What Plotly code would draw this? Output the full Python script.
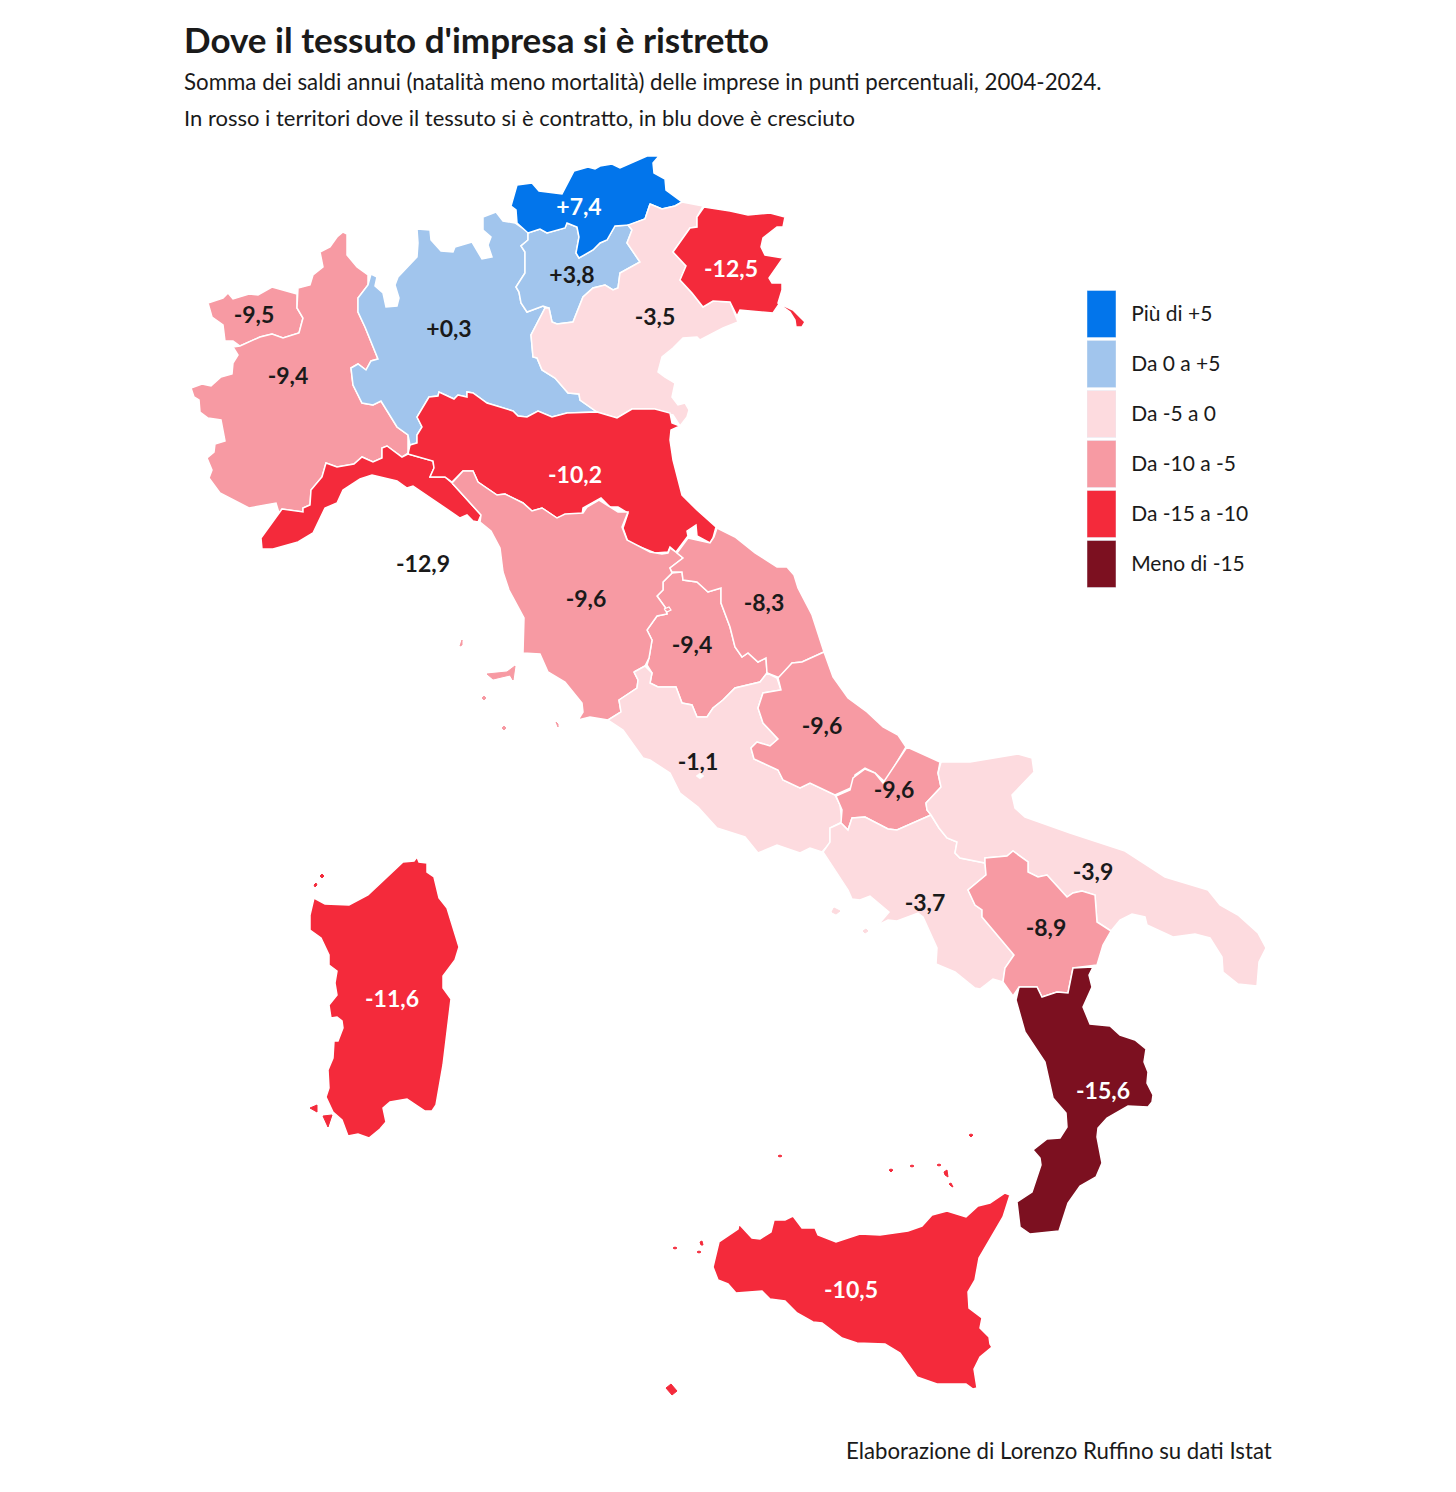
import plotly.graph_objects as go

TITLE = "Dove il tessuto d'impresa si è ristretto"
SUBTITLE_1 = "Somma dei saldi annui (natalità meno mortalità) delle imprese in punti percentuali, 2004-2024."
SUBTITLE_2 = "In rosso i territori dove il tessuto si è contratto, in blu dove è cresciuto"
CAPTION = "Elaborazione di Lorenzo Ruffino su dati Istat"

FONT = "Lato"
INK = "#1a1a1a"

REGIONS = ["Valle d'Aosta", "Piemonte", "Lombardia", "Trentino", "Alto Adige", "Veneto", "Friuli-Venezia Giulia",
           "Liguria", "Emilia-Romagna", "Umbria", "Toscana", "Marche", "Lazio", "Abruzzo", "Molise", "Campania",
           "Puglia", "Basilicata", "Calabria", "Sicilia", "Sardegna"]
VALUES = [-9.5, -9.4, 0.3, 3.8, 7.4, -3.5, -12.5, -12.9, -10.2, -9.4, -9.6, -8.3, -1.1, -9.6, -9.6, -3.7, -3.9,
          -8.9, -15.6, -10.5, -11.6]

# where each value label sits on the map
LABEL_X = [254, 288, 449, 572, 579, 655, 731, 423, 575, 692, 586, 764, 698, 822, 894, 925, 1093, 1046, 1103, 851, 392]
LABEL_Y = [317, 378, 331, 277, 209, 319, 271, 566, 477, 647, 601, 605, 764, 728, 792, 905, 874, 930, 1093, 1292, 1001]

LEGEND_LABELS = ["Più di +5", "Da 0 a +5", "Da -5 a 0", "Da -10 a -5", "Da -15 a -10", "Meno di -15"]
LEGEND_COLORS = ["#0275eb", "#a1c5ed", "#fddbdf", "#f79aa3", "#f42a3b", "#7c1020"]
LEGEND_BREAKS = [5, 0, -5, -10, -15]

# outlines, in page pixels; first ring is the mainland, the rest are islands
VALLE_DAOSTA = [[(208, 303), (223, 298), (228, 293), (233, 299), (249, 294), (258, 295), (272, 287), (297, 294),
                 (297, 308), (303, 318), (299, 333), (283, 338), (272, 334), (260, 337), (240, 346), (233, 341),
                 (225, 341), (223, 325), (212, 317)]]
PIEMONTE = [[(337, 237), (343, 232), (347, 234), (347, 255), (357, 267), (368, 275), (368, 285), (358, 298),
             (358, 312), (365, 327), (378, 359), (371, 361), (366, 370), (358, 364), (351, 368), (353, 385),
             (362, 403), (373, 405), (381, 401), (397, 427), (408, 435), (408, 453), (402, 457), (387, 446),
             (382, 448), (382, 458), (373, 462), (362, 457), (354, 464), (337, 467), (326, 463), (322, 477),
             (311, 490), (310, 505), (303, 508), (303, 512), (282, 509), (279, 513), (276, 503), (249, 508),
             (220, 493), (209, 478), (212, 470), (207, 458), (214, 452), (215, 444), (225, 441), (221, 420),
             (208, 418), (200, 412), (199, 400), (194, 397), (191, 388), (202, 384), (211, 386), (221, 377),
             (232, 374), (233, 363), (238, 355), (233, 347), (240, 346), (260, 337), (272, 334), (283, 338),
             (299, 333), (303, 318), (297, 308), (298, 288), (310, 285), (313, 275), (323, 267), (320, 252),
             (330, 247)]]
LOMBARDIA = [[(371, 274), (377, 277), (375, 286), (383, 293), (386, 307), (397, 306), (399, 298), (395, 285),
              (398, 277), (417, 257), (418, 243), (417, 229), (430, 230), (431, 240), (441, 251), (453, 252),
              (455, 247), (472, 242), (482, 259), (492, 257), (488, 245), (491, 237), (483, 230), (483, 217),
              (496, 212), (503, 221), (515, 223), (528, 232), (528, 240), (521, 246), (525, 252), (525, 273),
              (516, 287), (519, 292), (521, 303), (527, 312), (543, 306), (545, 308), (531, 335), (533, 357),
              (537, 358), (542, 370), (555, 378), (568, 393), (579, 394), (580, 400), (597, 412), (567, 413),
              (552, 417), (538, 411), (527, 417), (518, 416), (513, 411), (487, 403), (473, 393), (467, 392),
              (467, 397), (458, 395), (454, 399), (439, 392), (438, 396), (429, 397), (417, 417), (422, 427),
              (417, 435), (417, 443), (410, 445), (408, 435), (397, 427), (381, 401), (373, 405), (362, 403),
              (353, 385), (351, 368), (358, 364), (366, 370), (371, 361), (378, 359), (365, 327), (358, 312),
              (358, 298), (368, 285)]]
TRENTINO = [[(528, 233), (540, 229), (547, 233), (565, 228), (567, 223), (577, 227), (579, 237), (576, 253),
             (579, 258), (593, 250), (600, 243), (607, 240), (615, 226), (628, 225), (632, 230), (627, 243),
             (640, 262), (620, 273), (618, 288), (613, 290), (605, 285), (593, 288), (583, 297), (573, 322),
             (557, 324), (552, 322), (549, 308), (543, 306), (527, 312), (521, 303), (519, 292), (516, 287),
             (525, 273), (525, 258), (525, 252), (521, 246), (528, 240)]]
ALTO_ADIGE = [[(517, 185), (532, 183), (539, 191), (562, 194), (574, 171), (588, 167), (595, 169), (600, 166),
               (612, 164), (620, 168), (647, 156), (659, 156), (653, 163), (654, 173), (665, 179), (666, 190),
               (682, 202), (675, 206), (662, 209), (650, 204), (645, 219), (630, 225), (615, 226), (607, 240),
               (600, 243), (593, 250), (579, 258), (576, 253), (579, 237), (577, 227), (567, 223), (565, 228),
               (547, 233), (540, 229), (528, 233), (517, 223), (516, 210), (511, 206)]]
VENETO = [[(650, 204), (662, 209), (675, 206), (682, 202), (703, 206), (697, 217), (697, 227), (690, 228),
           (673, 252), (686, 266), (680, 280), (692, 293), (703, 307), (713, 301), (730, 302), (738, 322),
           (723, 328), (700, 340), (697, 337), (683, 338), (673, 348), (662, 357), (658, 372), (665, 377),
           (675, 383), (672, 397), (678, 405), (685, 403), (689, 410), (687, 417), (680, 426), (673, 415),
           (663, 413), (654, 409), (632, 409), (617, 418), (597, 412), (580, 400), (579, 394), (568, 393),
           (555, 378), (542, 370), (537, 358), (533, 357), (531, 335), (545, 308), (549, 308), (552, 322),
           (557, 324), (573, 322), (583, 297), (593, 288), (605, 285), (613, 290), (618, 288), (620, 273),
           (640, 262), (627, 243), (632, 230), (628, 225), (645, 219)]]
FRIULI = [[(704, 207), (730, 211), (748, 215), (770, 213), (785, 217), (783, 227), (777, 227), (763, 238),
           (761, 247), (765, 255), (783, 258), (769, 278), (772, 283), (782, 283), (782, 290), (778, 303),
           (793, 310), (805, 322), (802, 327), (796, 327), (795, 320), (790, 312), (779, 304), (773, 313),
           (740, 310), (737, 316), (730, 302), (713, 301), (703, 307), (692, 293), (680, 280), (686, 266),
           (673, 252), (690, 228), (697, 227), (697, 217)]]
LIGURIA = [[(408, 454), (433, 461), (434, 468), (430, 477), (445, 477), (452, 483), (481, 515), (478, 522),
            (473, 521), (467, 515), (460, 518), (413, 486), (407, 488), (397, 481), (372, 475), (360, 479),
            (343, 490), (337, 503), (325, 508), (313, 533), (298, 542), (273, 549), (262, 549), (261, 538),
            (282, 509), (303, 512), (303, 508), (310, 505), (311, 490), (322, 477), (326, 463), (337, 467),
            (354, 464), (362, 457), (373, 462), (382, 458), (382, 448), (387, 446), (402, 457)]]
EMILIA = [[(410, 445), (417, 443), (417, 435), (422, 427), (417, 417), (429, 397), (438, 396), (439, 392),
           (454, 399), (458, 395), (467, 397), (467, 392), (473, 393), (487, 403), (513, 411), (518, 416),
           (527, 417), (538, 411), (552, 417), (567, 413), (597, 412), (617, 418), (632, 409), (655, 409),
           (670, 413), (672, 423), (680, 426), (671, 430), (670, 440), (673, 460), (682, 495), (697, 510),
           (716, 527), (713, 538), (710, 543), (697, 536), (696, 525), (687, 531), (688, 536), (676, 552),
           (670, 547), (668, 552), (655, 553), (628, 542), (623, 528), (628, 513), (618, 507), (610, 507),
           (601, 498), (583, 508), (582, 515), (567, 515), (557, 518), (542, 508), (532, 511), (523, 503),
           (505, 494), (497, 495), (478, 482), (473, 471), (463, 471), (452, 482), (445, 477), (430, 477),
           (434, 468), (433, 461), (408, 454)]]
TOSCANA = [[(452, 483), (463, 471), (473, 471), (478, 482), (497, 495), (505, 494), (523, 503), (532, 511),
            (542, 508), (557, 518), (565, 514), (583, 513), (587, 507), (599, 500), (618, 512), (628, 512),
            (622, 527), (627, 540), (650, 552), (662, 554), (668, 553), (670, 548), (677, 553), (683, 558),
            (670, 568), (672, 573), (663, 582), (663, 590), (657, 596), (665, 607), (667, 614), (657, 616),
            (647, 630), (652, 640), (649, 658), (645, 666), (634, 672), (638, 680), (637, 688), (619, 700),
            (621, 712), (608, 720), (590, 717), (578, 720), (583, 712), (582, 703), (565, 682), (548, 672),
            (540, 654), (523, 653), (524, 618), (509, 590), (503, 572), (500, 548), (491, 531), (480, 522),
            (481, 515)],
           [(487, 674), (493, 679), (510, 675), (513, 680), (515, 666), (507, 672)],
           [(460, 646), (462, 640), (462, 645)],
           [(482, 698), (484, 696), (486, 698), (484, 700)],
           [(502, 728), (504, 726), (506, 728), (504, 730)],
           [(556, 722), (558, 724), (558, 727)]]
MARCHE = [[(717, 528), (735, 537), (755, 553), (777, 567), (787, 567), (794, 575), (798, 588), (812, 615),
           (824, 652), (802, 662), (792, 663), (780, 678), (767, 673), (766, 658), (758, 662), (748, 653),
           (742, 657), (735, 647), (730, 627), (721, 603), (721, 588), (708, 592), (697, 582), (683, 580),
           (682, 572), (672, 572), (670, 568), (683, 558), (677, 553), (688, 538), (710, 543), (714, 537)]]
UMBRIA = [[(672, 573), (682, 572), (683, 580), (697, 582), (708, 592), (721, 588), (721, 603), (730, 627),
           (735, 647), (742, 657), (748, 653), (758, 662), (766, 658), (767, 673), (760, 682), (735, 688),
           (723, 700), (713, 708), (707, 717), (697, 717), (692, 705), (682, 703), (676, 687), (658, 687),
           (650, 683), (652, 673), (647, 665), (649, 658), (652, 640), (647, 630), (657, 616), (667, 614),
           (665, 607), (657, 596), (663, 590), (663, 582)]]
LAZIO = [[(634, 672), (645, 666), (652, 673), (650, 683), (658, 687), (676, 687), (682, 703), (692, 705),
          (697, 717), (707, 717), (713, 708), (723, 700), (735, 688), (760, 682), (767, 673), (777, 678),
          (781, 690), (763, 693), (758, 708), (763, 723), (778, 739), (770, 746), (757, 742), (751, 748),
          (754, 759), (778, 770), (783, 780), (800, 788), (810, 783), (835, 795), (840, 805), (842, 822),
          (830, 828), (830, 843), (822, 852), (810, 848), (800, 853), (777, 845), (758, 853), (745, 837),
          (717, 828), (698, 807), (680, 793), (670, 773), (650, 760), (643, 758), (623, 730), (608, 720),
          (621, 712), (619, 700), (637, 688), (638, 680)]]
ABRUZZO = [[(824, 652), (833, 677), (848, 698), (867, 712), (883, 727), (898, 735), (906, 747), (885, 782),
            (875, 773), (865, 768), (855, 775), (853, 787), (835, 795), (810, 783), (800, 788), (783, 780),
            (778, 770), (754, 759), (751, 748), (757, 742), (770, 746), (778, 739), (763, 723), (758, 708),
            (763, 693), (781, 690), (778, 678), (792, 663), (802, 662)]]
MOLISE = [[(907, 747), (940, 762), (938, 773), (941, 787), (926, 803), (927, 810), (931, 815), (897, 830),
           (888, 829), (865, 817), (852, 818), (848, 830), (841, 823), (842, 810), (836, 796), (850, 790),
           (853, 778), (865, 769), (875, 773), (883, 783)]]
CAMPANIA = [[(841, 823), (848, 830), (852, 818), (865, 817), (888, 829), (897, 830), (931, 815), (939, 828),
             (947, 838), (957, 842), (955, 853), (960, 858), (985, 863), (986, 875), (968, 890), (975, 905),
             (982, 910), (982, 917), (1014, 955), (1005, 968), (1003, 982), (993, 979), (980, 989), (975, 988),
             (955, 972), (936, 964), (937, 948), (923, 917), (918, 913), (897, 921), (888, 920), (878, 925),
             (889, 912), (870, 896), (860, 900), (852, 899), (848, 890), (823, 852), (830, 842), (830, 828)],
            [(832, 912), (834, 908), (840, 911), (836, 914)],
            [(863, 931), (866, 929), (868, 931), (865, 933)]]
PUGLIA = [[(941, 762), (970, 762), (1018, 754), (1032, 758), (1034, 772), (1012, 795), (1015, 808), (1025, 817),
           (1070, 833), (1125, 851), (1165, 877), (1208, 890), (1220, 905), (1238, 915), (1258, 933), (1266, 948),
           (1259, 962), (1257, 986), (1238, 984), (1223, 972), (1222, 957), (1210, 938), (1195, 934), (1173, 937),
           (1147, 925), (1145, 917), (1132, 914), (1120, 920), (1111, 931), (1097, 922), (1095, 895), (1082, 891),
           (1073, 893), (1067, 897), (1047, 875), (1038, 877), (1028, 872), (1028, 862), (1013, 851), (1007, 856),
           (985, 858), (985, 863), (960, 858), (955, 853), (957, 842), (947, 838), (939, 828), (931, 815),
           (927, 810), (926, 803), (941, 787), (938, 773)]]
BASILICATA = [[(985, 863), (985, 858), (1007, 856), (1013, 851), (1028, 862), (1028, 872), (1038, 877), (1047, 875),
               (1067, 897), (1073, 893), (1082, 891), (1095, 895), (1097, 922), (1111, 931), (1103, 945), (1097, 965),
               (1073, 968), (1068, 993), (1057, 992), (1042, 997), (1037, 987), (1019, 987), (1013, 996), (1003, 982),
               (1005, 968), (1014, 955), (982, 917), (982, 910), (975, 905), (968, 890), (986, 875)]]
CALABRIA = [[(1019, 987), (1037, 987), (1042, 997), (1057, 992), (1068, 993), (1073, 968), (1093, 967), (1089, 975),
             (1092, 987), (1083, 1007), (1090, 1024), (1110, 1026), (1120, 1035), (1135, 1040), (1146, 1049),
             (1144, 1062), (1148, 1072), (1147, 1083), (1153, 1095), (1152, 1102), (1148, 1107), (1128, 1106),
             (1107, 1118), (1098, 1128), (1097, 1137), (1102, 1163), (1096, 1177), (1080, 1186), (1068, 1203),
             (1059, 1231), (1030, 1234), (1020, 1227), (1017, 1202), (1032, 1192), (1041, 1165), (1040, 1158),
             (1033, 1150), (1047, 1139), (1060, 1138), (1067, 1127), (1066, 1113), (1053, 1098), (1045, 1062),
             (1025, 1032), (1016, 1000)]]
SICILIA = [[(739, 1224), (752, 1238), (760, 1239), (771, 1232), (774, 1220), (785, 1220), (793, 1216), (802, 1228),
            (815, 1228), (818, 1235), (836, 1242), (860, 1234), (880, 1235), (908, 1231), (922, 1226), (932, 1215),
            (947, 1211), (966, 1217), (978, 1206), (990, 1203), (1005, 1193), (1010, 1195), (1003, 1217), (979, 1258),
            (975, 1280), (968, 1292), (969, 1308), (982, 1318), (980, 1328), (989, 1337), (990, 1344), (992, 1347),
            (980, 1357), (974, 1369), (977, 1388), (973, 1389), (966, 1384), (937, 1384), (917, 1377), (900, 1353),
            (885, 1344), (857, 1343), (842, 1338), (822, 1323), (813, 1322), (797, 1313), (785, 1301), (770, 1299),
            (762, 1291), (736, 1293), (728, 1284), (718, 1280), (713, 1267), (719, 1242), (738, 1229)],
           [(666, 1388), (671, 1384), (677, 1391), (672, 1395)],
           [(673, 1248), (675, 1247), (677, 1248), (675, 1249)],
           [(700, 1242), (702, 1241), (703, 1245), (701, 1245)],
           [(697, 1252), (699, 1251), (701, 1252), (699, 1253)],
           [(969, 1135), (971, 1134), (973, 1135), (971, 1137)],
           [(778, 1156), (780, 1155), (782, 1156), (780, 1157)],
           [(889, 1170), (891, 1169), (893, 1170), (891, 1172)],
           [(910, 1166), (912, 1165), (914, 1166), (912, 1167)],
           [(937, 1165), (939, 1164), (941, 1165), (939, 1166)],
           [(944, 1172), (947, 1170), (948, 1177), (945, 1175)],
           [(949, 1184), (951, 1183), (953, 1187), (951, 1186)]]
SARDEGNA = [[(314, 898), (325, 904), (349, 905), (368, 895), (403, 862), (414, 861), (417, 857), (419, 862),
             (427, 863), (427, 872), (434, 877), (439, 898), (447, 908), (459, 947), (455, 960), (443, 976),
             (443, 988), (451, 999), (443, 1065), (436, 1105), (432, 1111), (425, 1111), (407, 1099), (390, 1102),
             (383, 1108), (386, 1122), (380, 1129), (369, 1138), (358, 1134), (348, 1136), (342, 1120), (333, 1112),
             (326, 1097), (329, 1088), (328, 1070), (333, 1058), (334, 1041), (338, 1041), (343, 1028), (342, 1021),
             (337, 1017), (331, 1018), (329, 1005), (337, 995), (335, 983), (337, 971), (329, 965), (329, 955),
             (321, 938), (310, 930), (310, 915)],
            [(310, 1108), (317, 1105), (317, 1112)],
            [(323, 1116), (332, 1115), (328, 1127)],
            [(320, 876), (322, 874), (324, 876), (322, 878)],
            [(314, 885), (316, 883), (317, 885), (315, 887)]]

OUTLINES = [VALLE_DAOSTA, PIEMONTE, LOMBARDIA, TRENTINO, ALTO_ADIGE, VENETO, FRIULI, LIGURIA, EMILIA, UMBRIA, TOSCANA,
            MARCHE, LAZIO, ABRUZZO, MOLISE, CAMPANIA, PUGLIA, BASILICATA, CALABRIA, SICILIA, SARDEGNA]
# the Vatican gap inside Lazio
VATICANO = [(696, 776), (700, 773), (704, 776), (700, 779)]
# the Tuscan enclave inside Umbria
ENCLAVE = [(664, 609), (669, 607), (671, 610), (667, 612)]

# the browser pads the page by 8px, so the plot is 16px smaller and the axes start at 8
PAD = 8
PLOT_W = 1440
PLOT_H = 1476


def band_color(value):
    # picks the legend band a value falls in
    for brk, color in zip(LEGEND_BREAKS, LEGEND_COLORS):
        if value >= brk:
            return color
    return LEGEND_COLORS[-1]


def rings_to_xy(rings):
    xs, ys = [], []
    for ring in rings:
        xs += [p[0] for p in ring] + [ring[0][0], None]
        ys += [p[1] for p in ring] + [ring[0][1], None]
    return xs, ys


def label_text(value):
    return f"{value:+.1f}".replace(".", ",")


def label_color(name, value):
    # Liguria's label sits out at sea, on white
    if name != "Liguria" and band_color(value) in ("#0275eb", "#f42a3b", "#7c1020"):
        return "white"
    return INK


fig = go.Figure()

for name, value, rings in zip(REGIONS, VALUES, OUTLINES):
    color = band_color(value)
    xs, ys = rings_to_xy(rings[:1])
    fig.add_trace(go.Scatter(x=xs, y=ys, mode="lines", fill="toself", fillcolor=color,
                             line=dict(color="white", width=1.5), name=name, hoverinfo="name"))
    if len(rings) > 1:
        # islands get no white edge or the tiny ones vanish
        xs, ys = rings_to_xy(rings[1:])
        fig.add_trace(go.Scatter(x=xs, y=ys, mode="lines", fill="toself", fillcolor=color,
                                 line=dict(color=color, width=1), name=name, hoverinfo="name"))

xs, ys = rings_to_xy([VATICANO])
fig.add_trace(go.Scatter(x=xs, y=ys, mode="lines", fill="toself", fillcolor="white",
                         line=dict(color="white", width=0.5), hoverinfo="skip"))
xs, ys = rings_to_xy([ENCLAVE])
fig.add_trace(go.Scatter(x=xs, y=ys, mode="lines", fill="toself", fillcolor=band_color(-9.6),
                         line=dict(color="white", width=1.2), hoverinfo="skip"))

fig.add_trace(go.Scatter(x=LABEL_X, y=LABEL_Y, mode="text", text=[label_text(v) for v in VALUES],
                         textposition="middle center", hoverinfo="skip",
                         textfont=dict(family=FONT, size=23, weight=700,
                                       color=[label_color(n, v) for n, v in zip(REGIONS, VALUES)])))

# legend is a little bar chart with the labels as ticks
fig.add_trace(go.Bar(x=[1] * len(LEGEND_LABELS), y=LEGEND_LABELS, orientation="h", marker=dict(color=LEGEND_COLORS),
                     xaxis="x2", yaxis="y2", hoverinfo="skip"))

fig.update_layout(
    width=PLOT_W, height=PLOT_H, margin=dict(l=0, r=0, t=0, b=0), plot_bgcolor="white", paper_bgcolor="white",
    showlegend=False, bargap=0.06,
    xaxis=dict(range=[PAD, PAD + PLOT_W], visible=False, domain=[0, 1]),
    yaxis=dict(range=[PAD + PLOT_H, PAD], visible=False, domain=[0, 1]),
    xaxis2=dict(domain=[(1087 - PAD) / PLOT_W, (1116 - PAD) / PLOT_W], anchor="y2", range=[0, 1], visible=False),
    yaxis2=dict(domain=[1 - (589 - PAD) / PLOT_H, 1 - (289 - PAD) / PLOT_H], anchor="x2", side="right",
                autorange="reversed", type="category", categoryorder="array", categoryarray=LEGEND_LABELS,
                showline=False, showgrid=False, ticks="outside", ticklen=10, tickcolor="rgba(0,0,0,0)",
                tickfont=dict(family=FONT, size=21, color=INK)),
    annotations=[
        dict(x=182, y=39, xref="x", yref="y", text=TITLE, showarrow=False, xanchor="left", yanchor="middle",
             font=dict(family=FONT, size=35, weight=700, color=INK)),
        dict(x=182, y=81, xref="x", yref="y", text=SUBTITLE_1, showarrow=False, xanchor="left", yanchor="middle",
             font=dict(family=FONT, size=22.3, color=INK)),
        dict(x=182, y=117, xref="x", yref="y", text=SUBTITLE_2, showarrow=False, xanchor="left", yanchor="middle",
             font=dict(family=FONT, size=22, color=INK)),
        dict(x=1274, y=1450, xref="x", yref="y", text=CAPTION, showarrow=False, xanchor="right", yanchor="middle",
             font=dict(family=FONT, size=22.2, color=INK)),
    ],
)

fig.write_html("out.html")
